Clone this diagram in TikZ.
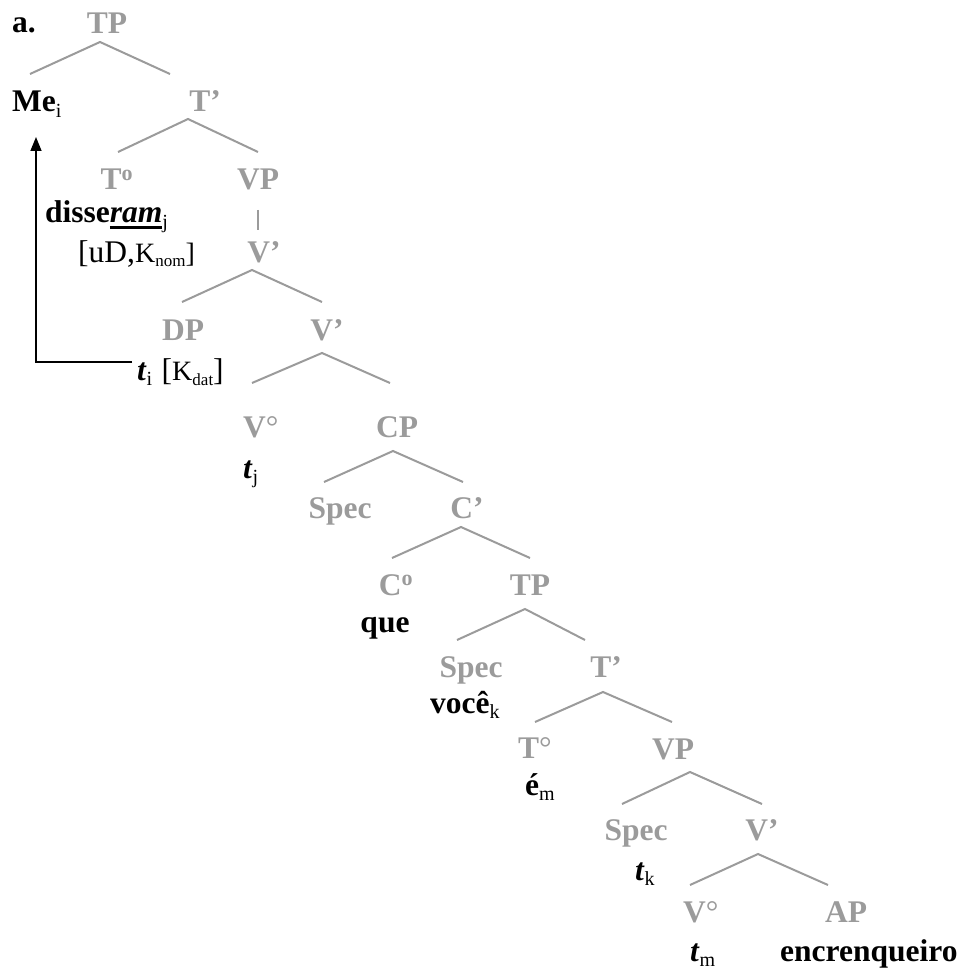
\documentclass[tikz,border=0pt]{standalone}
\usepackage{fontspec}
\setmainfont{Liberation Serif}
\usetikzlibrary{arrows.meta}
\definecolor{tg}{RGB}{155,155,155}
\newcommand{\lsub}[1]{\raisebox{-0.17em}{\fontsize{20}{20}\selectfont\mdseries\upshape #1}}
\newcommand{\ksub}[1]{\raisebox{-0.17em}{\fontsize{17}{17}\selectfont\mdseries\upshape #1}}
\newcommand{\thickul}[1]{\setbox0\hbox{#1}\rlap{\rule[-0.2em]{\wd0}{0.09em}}\box0}
\tikzset{
  lab/.style={inner sep=0pt, anchor=base, text=tg, font=\fontsize{31.5}{36}\selectfont\bfseries},
  word/.style={inner sep=0pt, anchor=base west, text=black, font=\fontsize{31.5}{36}\selectfont},
  branch/.style={draw=tg, line width=2pt},
  movearrow/.style={draw=black, line width=1.5pt, -{Triangle[length=14pt,width=11pt]}}
}
\begin{document}
\begin{tikzpicture}[x=1pt,y=-1pt]
\useasboundingbox (0,0) rectangle (964,968);
% labels
\node[word,font=\fontsize{31.5}{36}\selectfont\bfseries] (a) at (12,33) {a.};
\node[lab] (tp1) at (107,34) {TP};
\node[word] (me) at (12,112) {\textbf{Me}\lsub{i}};
\node[lab] (tbar1) at (205,112) {T’};
\node[lab] (t0a) at (117,190) {T\textsuperscript{o}};
\node[lab] (vp1) at (258,190) {VP};
\node[word] (disse) at (45,223) {\textbf{disse\thickul{\textit{ram}}}\lsub{j}};
\node[word] (feat) at (78,262) {[uD,\fontsize{28}{30}\selectfont K\ksub{nom}]};
\node[lab] (vbar1) at (264,262) {V’};
\node[lab] (dp) at (183,340) {DP};
\node[lab] (vbar2) at (327,340) {V’};
\node[word] (ti) at (137,380) {\textbf{\textit{t}}\lsub{i}\hspace{0.3em}[{\fontsize{28}{30}\selectfont K}\ksub{dat}]};
\node[lab,anchor=base west] (v0a) at (243,437) {V{\mdseries °}};
\node[lab] (cp) at (397,437) {CP};
\node[word] (tj) at (243,478) {\textbf{\textit{t}}\lsub{j}};
\node[lab] (spec1) at (340,518) {Spec};
\node[lab] (cbar) at (467,518) {C’};
\node[lab] (c0) at (396,595) {C\textsuperscript{o}};
\node[lab] (tp2) at (530,595) {TP};
\node[word,anchor=base] (que) at (385,632) {\textbf{que}};
\node[lab] (spec2) at (471,677) {Spec};
\node[lab] (tbar2) at (606,677) {T’};
\node[word] (voce) at (430,713) {\textbf{você}\lsub{k}};
\node[lab] (t0b) at (535,758) {T{\mdseries °}};
\node[lab] (vp2) at (673,759) {VP};
\node[word] (em) at (525,795) {\textbf{é}\lsub{m}};
\node[lab] (spec3) at (636,840) {Spec};
\node[lab] (vbar3) at (762,840) {V’};
\node[word] (tk) at (635,880) {\textbf{\textit{t}}\lsub{k}};
\node[lab,anchor=base west] (v0b) at (683,922) {V{\mdseries °}};
\node[lab] (ap) at (846,922) {AP};
\node[word] (tm) at (690,961) {\textbf{\textit{t}}\lsub{m}};
\node[word] (enc) at (780,961) {\textbf{encrenqueiro}};
% branches
\draw[branch] (30,74) -- (100,42) -- (170,74);
\draw[branch] (118,152) -- (188,119) -- (258,152);
\draw[branch] (258,210) -- (258,230);
\draw[branch] (182,302) -- (252,270) -- (322,302);
\draw[branch] (252,383) -- (322,353) -- (390,383);
\draw[branch] (324,482) -- (393,451) -- (463,482);
\draw[branch] (392,558) -- (461,527) -- (530,558);
\draw[branch] (457,640) -- (525,609) -- (585,640);
\draw[branch] (535,722) -- (603,692) -- (672,722);
\draw[branch] (622,804) -- (690,772) -- (762,804);
\draw[branch] (690,885) -- (758,854) -- (828,885);
% movement arrow
\coordinate (arrstart) at (132,362);
\coordinate (arrend) at (36,137);
\draw[movearrow] (arrstart) -| (arrend);
\end{tikzpicture}
\end{document}
